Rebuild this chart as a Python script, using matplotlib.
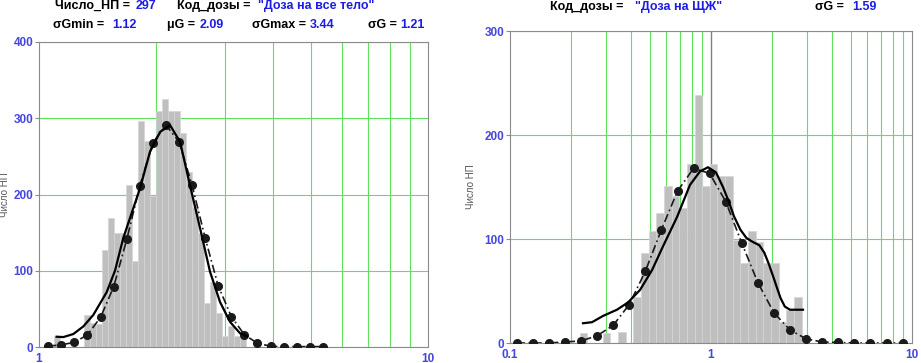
import matplotlib
matplotlib.use('Agg')
import matplotlib.pyplot as plt
import numpy as np
from matplotlib.ticker import NullFormatter, LogLocator

plt.rcParams['font.family'] = ['Liberation Sans', 'DejaVu Sans']

# ---- left panel: "Доза на все тело" ----
bins1_lo, bins1_hi = 1.093, 3.404
counts1 = [14, 0, 0, 0, 0, 42, 31, 30, 127, 169, 150, 150, 212, 113, 296, 270,
           198, 310, 325, 310, 310, 280, 230, 184, 150, 58, 85, 45, 15, 27, 15, 15]
smooth1_x = [1.11, 1.155, 1.225, 1.30, 1.379, 1.493, 1.568, 1.647, 1.818, 1.929,
             2.047, 2.172, 2.305, 2.444, 2.594, 2.751, 2.920, 3.097, 3.287, 3.425]
smooth1_y = [13.5, 13, 17, 27, 42, 72, 100, 143, 208, 256,
             282, 291, 269, 212, 156, 99, 59, 33, 18, 14]
fit1_x = [1.056, 1.142, 1.233, 1.332, 1.440, 1.556, 1.681, 1.816, 1.962, 2.120, 2.291,
          2.475, 2.674, 2.889, 3.122, 3.373, 3.644, 3.937, 4.254, 4.596, 4.966, 5.365]
fit1_y = [1, 3, 6, 16, 39, 79, 141, 211, 268, 291, 269,
          212, 143, 80, 40, 16, 5, 1, 0.5, 0.5, 0.5, 0.5]

# ---- right panel: "Доза на ЩЖ" ----
bins2_lo, bins2_hi = 0.2223, 2.825
counts2 = [10, 0, 0, 10, 0, 11, 0, 44, 87, 108, 125, 151, 141, 130, 172, 238,
           151, 172, 161, 161, 99, 77, 108, 97, 77, 77, 20, 32, 44]
smooth2_x = [0.2308, 0.2559, 0.2902, 0.3405, 0.3865, 0.4434, 0.5087, 0.5771, 0.6773,
             0.786, 0.8816, 0.9663, 1.059, 1.147, 1.22, 1.30, 1.40, 1.50, 1.62,
             1.74, 1.84, 1.93, 2.03, 2.13, 2.22, 2.33, 2.472, 2.869]
smooth2_y = [19, 20, 26, 32, 39, 51, 70, 93, 121, 152, 165, 169, 164, 150, 137, 122,
             109, 101, 97, 94, 87, 77, 65, 53, 43, 35, 32, 32]
fit2_x = [0.108, 0.1298, 0.1561, 0.1877, 0.2256, 0.2713, 0.3261, 0.3921, 0.4714,
          0.5667, 0.6813, 0.819, 0.9847, 1.184, 1.423, 1.711, 2.057, 2.474, 2.974,
          3.575, 4.298, 5.167, 6.213, 7.469, 8.98]
fit2_y = [0, 0, 0, 1, 2, 7, 17, 37, 69, 109, 146, 168, 163, 136, 96, 58, 29, 12.5,
          4, 1, 0.5, 0, 0, 0, 0]

W, H = 921, 363
fig = plt.figure(figsize=(W / 100, H / 100), dpi=100)

tick_blue = '#4646e0'
text_blue = '#1c1ce6'
green = '#5fe05f'


def panel(rect, xlim, ylim, yticks, xticks, xlabels, lo, hi, counts,
          sx, sy, fx, fy):
    ax = fig.add_axes(rect)
    edges = np.geomspace(lo, hi, len(counts) + 1)
    ax.bar(edges[:-1], counts, width=np.diff(edges), align='edge',
           color='#bfbfbf', edgecolor='#d6d6d6', linewidth=0.5, zorder=2)
    ax.plot(fx, fy, color='#1a1a1a', lw=1.2, linestyle=(0, (5, 2, 1, 2)),
            marker='o', markersize=5.5, zorder=3)
    ax.plot(sx, sy, color='black', lw=1.6, zorder=4)
    ax.set_xscale('log')
    ax.set_xlim(*xlim)
    ax.set_ylim(*ylim)
    ax.xaxis.set_minor_locator(LogLocator(base=10, subs=np.arange(2, 10)))
    ax.xaxis.set_minor_formatter(NullFormatter())
    ax.set_xticks(xticks)
    ax.set_xticklabels(xlabels)
    ax.set_yticks(yticks)
    ax.grid(True, which='minor', axis='x', color=green, lw=0.8, zorder=0)
    ax.grid(True, which='major', axis='y', color=green, lw=0.8, zorder=0)
    ax.set_axisbelow(True)
    for s in ax.spines.values():
        s.set_color('#8a8a8a')
        s.set_linewidth(0.8)
    ax.tick_params(axis='x', which='both', length=0, pad=4)
    ax.tick_params(axis='y', length=3, color='#8a8a8a', pad=1)
    for lab in ax.get_xticklabels() + ax.get_yticklabels():
        lab.set_color(tick_blue)
        lab.set_fontsize(8.5)
        lab.set_fontweight('bold')
    ax.set_ylabel('Число НП', fontsize=7, color='#555555', labelpad=2)
    return ax


ax1 = panel([39 / W, 1 - 347 / H, 389 / W, 305 / H], (1, 10), (0, 400),
            [0, 100, 200, 300, 400], [1, 10], ['1', '10'],
            bins1_lo, bins1_hi, counts1, smooth1_x, smooth1_y, fit1_x, fit1_y)
ax1.yaxis.set_label_coords(-0.075, 0.5)

ax2 = panel([510 / W, 1 - 343 / H, 402 / W, 312 / H], (0.1, 10), (0, 300),
            [0, 100, 200, 300], [0.1, 1, 10], ['0.1', '1', '10'],
            bins2_lo, bins2_hi, counts2, smooth2_x, smooth2_y, fit2_x, fit2_y)
ax2.axvline(1, color='#808080', lw=1.0, zorder=1)
ax2.yaxis.set_label_coords(-0.085, 0.5)


def put(x, y, s, color):
    fig.text(x / W, 1 - y / H, s, color=color, fontsize=9, fontweight='bold',
             ha='left', va='center')


# headers, left
put(55, 6, 'Число_НП =', 'black')
put(136, 6, '297', text_blue)
put(177, 6, 'Код_дозы =', 'black')
put(258, 6, '"Доза на все тело"', text_blue)
put(53, 25, 'σGmin =', 'black')
put(112, 25, '1.12', text_blue)
put(167, 25, 'μG =', 'black')
put(200, 25, '2.09', text_blue)
put(252, 25, 'σGmax =', 'black')
put(310, 25, '3.44', text_blue)
put(368, 25, 'σG =', 'black')
put(400, 25, '1.21', text_blue)
# headers, right
put(550, 7, 'Код_дозы =', 'black')
put(635, 7, '"Доза на ЩЖ"', text_blue)
put(815, 7, 'σG =', 'black')
put(852, 7, '1.59', text_blue)

fig.savefig('out.png', dpi=100)
